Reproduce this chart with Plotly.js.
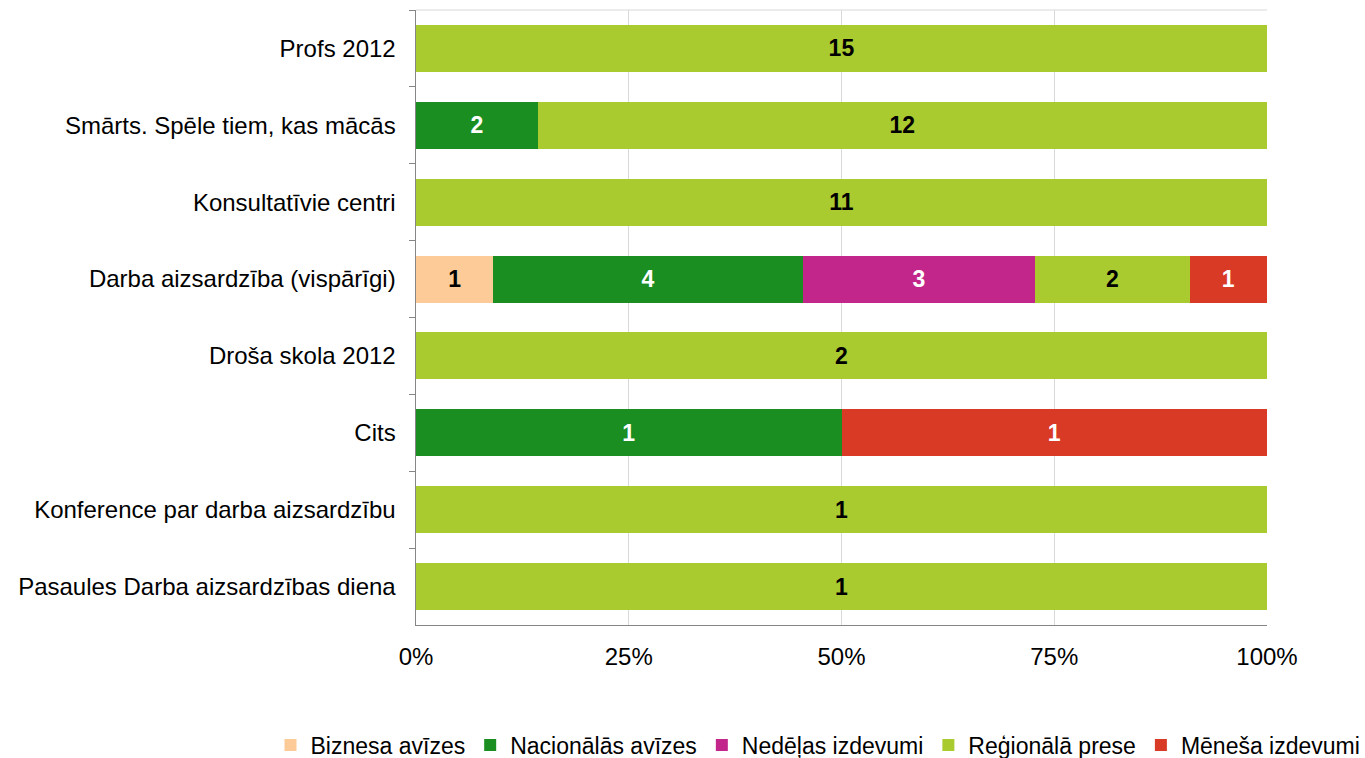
<!DOCTYPE html>
<html>
<head>
<meta charset="utf-8">
<script src="https://cdn.plot.ly/plotly-3.0.1.min.js"></script>
<style>html,body{margin:0;padding:0;background:#fff;}#chart{width:1365px;height:758px;}</style>
</head>
<body>
<div id="chart"></div>
<script>
const categories = [
  "Profs 2012",
  "Smārts. Spēle tiem, kas mācās",
  "Konsultatīvie centri",
  "Darba aizsardzība (vispārīgi)",
  "Droša skola 2012",
  "Cits",
  "Konference par darba aizsardzību",
  "Pasaules Darba aizsardzības diena"
];
const seriesNames = ["Biznesa avīzes", "Nacionālās avīzes", "Nedēļas izdevumi", "Reģionālā prese", "Mēneša izdevumi"];
const biznesa   = [null, null, null, 1, null, null, null, null];
const nacionalas = [null, 2, null, 4, null, 1, null, null];
const nedelas   = [null, null, null, 3, null, null, null, null];
const regionala = [15, 12, 11, 2, 2, null, 1, 1];
const menesa    = [null, null, null, 1, null, 1, null, null];
const tickVals = [0, 25, 50, 75, 100];
const tickText = ["0%", "25%", "50%", "75%", "100%"];

const FONT = "Liberation Sans, Arial, sans-serif";
const colors = ["#FCCB98", "#1B8E22", "#C3268A", "#A9CB30", "#D83A25"];
const textColors = ["#000", "#fff", "#fff", "#000", "#fff"];
const allSeries = [biznesa, nacionalas, nedelas, regionala, menesa];

const traces = allSeries.map((vals, i) => ({
  type: "bar",
  orientation: "h",
  name: seriesNames[i],
  y: categories,
  x: vals,
  text: vals.map(v => v == null ? "" : String(v)),
  textposition: "inside",
  insidetextanchor: "middle",
  textangle: 0,
  constraintext: "none",
  textfont: {family: FONT, size: 23, color: textColors[i], weight: "bold"},
  marker: {color: colors[i], line: {width: 0}},
  hoverinfo: "skip"
}));

const layout = {
  width: 1365, height: 758,
  margin: {l: 416, r: 98, t: 10, b: 133, autoexpand: false},
  barmode: "stack",
  barnorm: "percent",
  bargap: 0.39,
  paper_bgcolor: "#fff",
  plot_bgcolor: "#fff",
  font: {family: FONT, size: 24, color: "#000"},
  xaxis: {
    range: [0, 100],
    tickvals: tickVals,
    ticktext: tickText,
    showgrid: true,
    gridcolor: "#d9d9d9",
    gridwidth: 1,
    zeroline: false,
    showline: true,
    linecolor: "#868686",
    linewidth: 1,
    ticks: "",
    ticklabelstandoff: 10,
    tickfont: {size: 24, color: "#000"},
    fixedrange: true
  },
  yaxis: {
    type: "category",
    categoryorder: "array",
    categoryarray: categories,
    autorange: "reversed",
    showline: true,
    linecolor: "#868686",
    linewidth: 1.5,
    ticks: "outside",
    tickson: "boundaries",
    ticklen: 6,
    tickcolor: "#868686",
    showgrid: false,
    zeroline: false,
    ticklabelstandoff: 14,
    tickfont: {size: 24, color: "#000"},
    fixedrange: true
  },
  shapes: [{
    type: "line", xref: "paper", yref: "paper",
    x0: 0, x1: 1, y0: 1, y1: 1,
    line: {color: "#d9d9d9", width: 1}
  }],
  legend: {
    orientation: "h",
    x: -0.171, xanchor: "left",
    y: -0.195, yanchor: "middle",
    font: {size: 23, color: "#000"},
    itemwidth: 30,
    tracegroupgap: 0,
    traceorder: "normal"
  },
  showlegend: true
};

Plotly.newPlot("chart", traces, layout, {displayModeBar: false, staticPlot: true});
</script>
</body>
</html>
